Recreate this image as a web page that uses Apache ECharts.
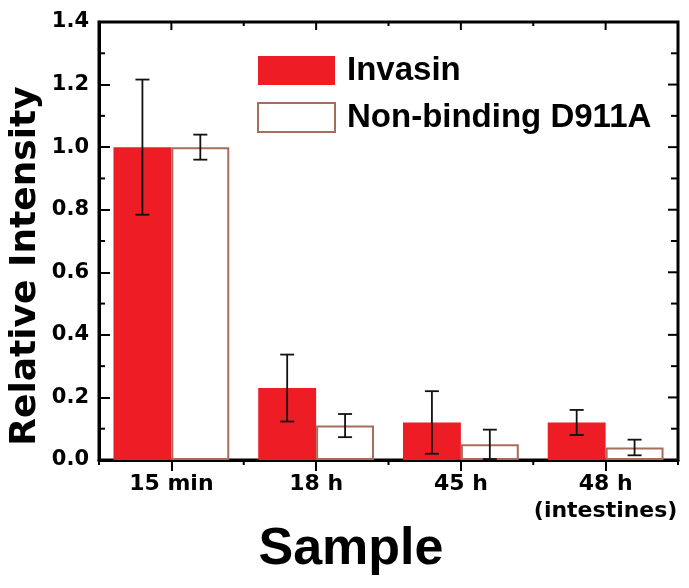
<!DOCTYPE html>
<html>
<head>
<meta charset="utf-8">
<script src="https://cdn.jsdelivr.net/npm/echarts@6/dist/echarts.min.js"></script>
<style>html,body{margin:0;padding:0;background:#fff;}#c{width:689px;height:588px;}#e{position:absolute;left:2px;bottom:2px;font:9px monospace;color:#999;}</style>
</head>
<body>
<div id="c"></div>
<div id="e"></div>
<script>
var categories = ['15 min', '18 h', '45 h', '48 h\n(intestines)'];
var invasin = [1.0, 0.23, 0.12, 0.12];
var invasinErr = [0.216, 0.107, 0.10, 0.04];
var nonBinding = [1.0, 0.11, 0.05, 0.04];
var nonBindingErr = [0.04, 0.037, 0.047, 0.025];
var yTicks = [0.0, 0.2, 0.4, 0.6, 0.8, 1.0, 1.2, 1.4];

var RED = '#EE1C25';
var BROWN = '#A66C5C';
var INK = '#000';
var yMin = yTicks[0], yMax = yTicks[yTicks.length - 1];

function errData(vals, errs) {
  return vals.map(function (v, i) { return [i, v - errs[i], v + errs[i]]; });
}
function errRender(sign) {
  return function (params, api) {
    var i = api.value(0);
    var band = api.size([1, 0])[0];
    var cx = api.coord([i, 0])[0] + sign * band * 0.2;
    var lo = api.coord([i, api.value(1)])[1];
    var hi = api.coord([i, api.value(2)])[1];
    var hw = 7;
    var st = {stroke: '#111', lineWidth: 1.8};
    return {type: 'group', children: [
      {type: 'line', shape: {x1: cx, y1: lo, x2: cx, y2: hi}, style: st},
      {type: 'line', shape: {x1: cx - hw, y1: hi, x2: cx + hw, y2: hi}, style: st},
      {type: 'line', shape: {x1: cx - hw, y1: lo, x2: cx + hw, y2: lo}, style: st}
    ]};
  };
}
// extra ticks (top, right, category boundaries, minor) placed through the axes' scales
function tickRender(params, api) {
  var cs = params.coordSys;
  var st = {stroke: INK, lineWidth: 2};
  var kids = [];
  function ln(x1, y1, x2, y2) { kids.push({type: 'line', shape: {x1: x1, y1: y1, x2: x2, y2: y2}, style: st}); }
  var band = api.size([1, 0])[0];
  var top = cs.y, bottom = cs.y + cs.height, left = cs.x, right = cs.x + cs.width;
  for (var i = 0; i < categories.length; i++) {
    var cx = api.coord([i, yMax])[0];
    ln(cx, top, cx, top + 8);
    var bx = cx - band / 2;
    ln(bx, bottom, bx, bottom + 5);
    ln(bx, top, bx, top + 4);
    if (i === categories.length - 1) {
      ln(cx + band / 2, bottom, cx + band / 2, bottom + 5);
    }
  }
  for (var k = 0; k < yTicks.length; k++) {
    var y = api.coord([0, yTicks[k]])[1];
    ln(right - 10, y, right, y);
    if (k < yTicks.length - 1) {
      var ym = api.coord([0, (yTicks[k] + yTicks[k + 1]) / 2])[1];
      ln(left, ym, left + 6, ym);
      ln(right - 7, ym, right, ym);
    }
  }
  return {type: 'group', children: kids};
}

var option = {
  animation: false,
  grid: {left: 99, right: 11, top: 22, bottom: 128, show: true, borderColor: INK, borderWidth: 3},
  legend: {
    left: 257, top: 54, orient: 'vertical', padding: 0,
    itemWidth: 77, itemHeight: 29, itemGap: 14,
    selectedMode: false,
    textStyle: {fontFamily: 'Liberation Sans', fontWeight: 'bold', fontSize: 33, color: '#000', padding: [0, 0, 0, 7]},
    data: [
      {name: 'Invasin', icon: 'rect', itemStyle: {color: RED, borderWidth: 0}},
      {name: 'Non-binding D911A', icon: 'rect', itemStyle: {color: '#fff', borderColor: BROWN, borderWidth: 2}}
    ]
  },
  xAxis: {type: 'category', data: categories,
    axisLine: {show: true, lineStyle: {color: INK, width: 3}},
    axisTick: {show: true, alignWithLabel: true, length: 11, lineStyle: {color: INK, width: 2}},
    axisLabel: {fontFamily: 'DejaVu Sans', fontWeight: 'bold', color: '#000', fontSize: 22, lineHeight: 27, margin: 11, interval: 0},
    splitLine: {show: false}},
  yAxis: {type: 'value', min: yMin, max: yMax, interval: 0.2,
    axisLine: {show: true, lineStyle: {color: INK, width: 3}},
    axisTick: {show: true, inside: true, length: 11, lineStyle: {color: INK, width: 2}},
    axisLabel: {fontFamily: 'DejaVu Sans', fontWeight: 'bold', color: '#000', fontSize: 21, margin: 10,
                formatter: function (v) { return v.toFixed(1); }},
    splitLine: {show: false}},
  series: [
    {name: 'Invasin', type: 'bar', data: invasin, barWidth: '40%', barGap: '0%',
     itemStyle: {color: RED}},
    {name: 'Non-binding D911A', type: 'bar', data: nonBinding, barWidth: '40%', barGap: '0%',
     itemStyle: {color: '#fff', borderColor: BROWN, borderWidth: 2}},
    {type: 'custom', name: 'errInv', data: errData(invasin, invasinErr), renderItem: errRender(-1), z: 5},
    {type: 'custom', name: 'errNB', data: errData(nonBinding, nonBindingErr), renderItem: errRender(1), z: 5},
    {type: 'custom', name: 'ticks', data: [[0, 0]], renderItem: tickRender, z: 6, silent: true}
  ],
  graphic: [
    {type: 'text', x: 26, y: 266, rotation: Math.PI / 2,
     style: {text: 'Relative Intensity', fontFamily: 'DejaVu Sans', fontWeight: 'bold', fontSize: 36,
             fill: '#000', textAlign: 'center', textVerticalAlign: 'middle'}},
    {type: 'text', x: 351, y: 550,
     style: {text: 'Sample', fontFamily: 'Liberation Sans', fontWeight: 'bold', fontSize: 52,
             fill: '#000', textAlign: 'center', textVerticalAlign: 'middle'}}
  ]
};

var chart = echarts.init(document.getElementById('c'), null, {renderer: 'canvas'});
try {
  chart.setOption(option);
} catch (err) {
  document.getElementById('e').textContent = 'err: ' + err.message;
}
</script>
</body>
</html>
